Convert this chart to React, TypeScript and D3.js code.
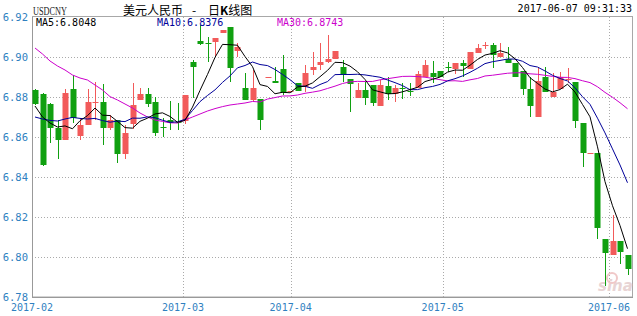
import React from "react";
import * as d3 from "d3";

const opens = [6.8835,6.8815,6.8764,6.8646,6.8587,6.8840,6.8605,6.8660,6.8772,6.8774,6.8644,6.8685,6.8515,6.8664,6.8786,6.8815,6.8774,6.8648,6.8685,6.8674,6.8680,6.8977,6.9078,6.9069,6.9074,6.9121,6.9148,6.9032,6.8843,6.8785,6.8790,6.8897,6.8880,6.8939,6.8828,6.8868,6.8852,6.8935,6.8960,6.8977,6.8989,6.8952,6.8888,6.8797,6.8835,6.8860,6.8755,6.8855,6.8815,6.8845,6.8832,6.8843,6.8898,6.8918,6.8930,6.8952,6.8938,6.8971,6.8938,6.9018,6.9058,6.9060,6.9002,6.8988,6.8968,6.8930,6.8839,6.8698,6.8902,6.8798,6.8838,6.8885,6.8877,6.8668,6.8516,6.8518,6.8088,6.8010,6.8080,6.8010];
const highs = [6.8840,6.8818,6.8770,6.8685,6.8840,6.8910,6.8695,6.8840,6.8877,6.8865,6.8710,6.8685,6.8660,6.8868,6.8843,6.8844,6.8799,6.8694,6.8782,6.8770,6.8812,6.8985,6.9160,6.9098,6.9095,6.9135,6.9148,6.9068,6.8918,6.8935,6.8790,6.8899,6.8952,6.9010,6.8831,6.8870,6.8960,6.9027,6.9068,6.9110,6.9032,6.8985,6.8888,6.8868,6.8877,6.8860,6.8885,6.8902,6.8860,6.8868,6.8868,6.8932,6.8985,6.8982,6.8930,6.8977,6.8970,6.8985,6.9023,6.9065,6.9075,6.9072,6.9068,6.9052,6.8968,6.8930,6.8902,6.8943,6.8952,6.8918,6.8927,6.8943,6.8877,6.8668,6.8519,6.8518,6.8088,6.8210,6.8080,6.8010];
const lows = [6.8760,6.8455,6.8568,6.8492,6.8585,6.8668,6.8585,6.8660,6.8685,6.8560,6.8635,6.8469,6.8490,6.8638,6.8786,6.8752,6.8605,6.8602,6.8635,6.8635,6.8667,6.8793,6.9060,6.8977,6.9000,6.9121,6.8877,6.9000,6.8785,6.8777,6.8635,6.8897,6.8869,6.8810,6.8828,6.8828,6.8827,6.8910,6.8935,6.8968,6.8989,6.8877,6.8727,6.8797,6.8760,6.8755,6.8755,6.8785,6.8777,6.8790,6.8805,6.8843,6.8898,6.8868,6.8898,6.8927,6.8915,6.8902,6.8938,6.9018,6.9040,6.8943,6.9002,6.8968,6.8898,6.8810,6.8698,6.8698,6.8827,6.8798,6.8838,6.8870,6.8643,6.8452,6.8516,6.8088,6.7855,6.8010,6.7965,6.7910];
const closes = [6.8765,6.8459,6.8646,6.8585,6.8822,6.8694,6.8660,6.8774,6.8774,6.8643,6.8685,6.8514,6.8619,6.8760,6.8814,6.8764,6.8619,6.8647,6.8669,6.8669,6.8810,6.8952,6.9065,6.9068,6.9095,6.9135,6.8944,6.9052,6.8785,6.8843,6.8685,6.8899,6.8869,6.8822,6.8831,6.8830,6.8918,6.8951,6.8977,6.8989,6.9032,6.8910,6.8865,6.8835,6.8797,6.8772,6.8860,6.8815,6.8843,6.8840,6.8828,6.8915,6.8960,6.8898,6.8898,6.8950,6.8968,6.8955,6.9023,6.9043,6.9060,6.9010,6.9022,6.8968,6.8898,6.8839,6.8755,6.8880,6.8827,6.8827,6.8898,6.8888,6.8682,6.8519,6.8518,6.8147,6.8018,6.8080,6.8024,6.7939];

const ma5Head = [6.8755, 6.8700, 6.8670, 6.8650];
const ma10Head = [6.8700, 6.8690, 6.8683, 6.8680, 6.8690, 6.8698, 6.8693, 6.8690, 6.8693];
const ma30Head = [6.9045,6.9015,6.8980,6.8955,6.8935,6.8910,6.8895,6.8885,6.8860,6.8835,6.8802,6.8785,6.8765,6.8745,6.8720,6.8700,6.8685,6.8678,6.8671,6.8670,6.8685,6.8700,6.8715,6.8730,6.8742,6.8752,6.8760,6.8765,6.8770];

const yTicks = [6.78, 6.80, 6.82, 6.84, 6.86, 6.88, 6.90, 6.92];
const monthLabels = ["2017-02", "2017-03", "2017-04", "2017-05", "2017-06"];
const monthPos = [-0.4, 19.73, 34.09, 54.36, 76.53];

const maLabels = [
  { text: "MA5:6.8048", color: "#000000" },
  { text: "MA10:6.8376", color: "#000099" },
  { text: "MA30:6.8743", color: "#cc00cc" },
];

const UP = "#f25a5a";
const DOWN = "#10a010";
const AXIS = "#2f7fbf";
const MONO = "'DejaVu Sans Mono', monospace";

function movingAvg(n: number, head: number[]) {
  return closes.map((c, i) =>
    i < n - 1 ? head[i] : (d3.mean(closes.slice(i - n + 1, i + 1)) as number)
  );
}

export default function App() {
  const W = 637, H = 316;
  const left = 32, right = 632, top = 17, bottom = 297;
  const x = d3.scaleLinear().domain([0, closes.length - 1]).range([35, 627.5]);
  const y = d3.scaleLinear().domain([6.78, 6.92]).range([bottom, top]);
  const bw = 6;

  const ma5 = movingAvg(5, ma5Head);
  const ma10 = movingAvg(10, ma10Head);
  const ma30 = movingAvg(30, ma30Head);
  const line = d3
    .line<number>()
    .x((_, i) => x(i))
    .y((v) => y(v));

  return (
    <svg width={W} height={H} style={{ position: "absolute", left: 0, top: 0, background: "#fff" }}>
      {/* grid */}
      {yTicks.slice(1, -1).map((t) => (
        <line key={t} x1={left} x2={right} y1={Math.round(y(t)) + 0.5} y2={Math.round(y(t)) + 0.5}
          stroke="#aaa" strokeDasharray="1,2" />
      ))}
      {monthPos.slice(1).map((p) => (
        <line key={p} x1={Math.round(x(p)) + 0.5} x2={Math.round(x(p)) + 0.5} y1={top} y2={bottom}
          stroke="#aaa" strokeDasharray="1,2" />
      ))}
      {/* frame */}
      <rect x={left + 0.5} y={top - 0.5} width={right - left} height={bottom - top + 0.5}
        fill="none" stroke="#a8a8a8" />
      <line x1={left + 0.5} x2={left + 0.5} y1={top} y2={bottom} stroke="#999" />
      <line x1={left} x2={right + 1} y1={bottom + 0.5} y2={bottom + 0.5} stroke="#999" />

      {/* watermark */}
      <text x={598} y={291} fontFamily="'DejaVu Sans', sans-serif" fontSize={15} fontStyle="italic"
        fontWeight="bold" fill="#e8d4d4">sina</text>
      <circle cx={612} cy={278} r={5} fill="none" stroke="#f0c8c8" strokeWidth={2} />

      {/* candles */}
      {closes.map((c, i) => {
        const o = opens[i];
        const up = c >= o;
        const col = up ? UP : DOWN;
        const cx = Math.round(x(i));
        const yt = Math.round(y(Math.max(o, c)));
        const yb = Math.round(y(Math.min(o, c)));
        return (
          <g key={i}>
            <line x1={cx + 0.5} x2={cx + 0.5} y1={Math.round(y(highs[i]))} y2={Math.round(y(lows[i]))} stroke={col} />
            <rect x={cx - bw / 2 + 0.5} y={yt} width={bw} height={Math.max(1, yb - yt)} fill={col} />
          </g>
        );
      })}

      {/* moving averages */}
      <path d={line(ma30) || ""} fill="none" stroke="#cc00cc" strokeWidth={1} />
      <path d={line(ma10) || ""} fill="none" stroke="#000099" strokeWidth={1} />
      <path d={line(ma5) || ""} fill="none" stroke="#000000" strokeWidth={1} />

      {/* y labels */}
      {yTicks.map((t) => (
        <text key={t} x={28} y={y(t)} dy="0.35em" textAnchor="end" fontFamily={MONO} fontSize={10.5} fill={AXIS}>
          {t.toFixed(2)}
        </text>
      ))}
      {/* x labels */}
      {monthLabels.map((m, k) => (
        <text key={m} x={x(monthPos[k])} y={311} textAnchor="middle" fontFamily={MONO} fontSize={10} fill={AXIS}>
          {m}
        </text>
      ))}

      {/* header */}
      <text x={33} y={15} fontFamily="'Liberation Serif', serif" fontSize={12} textLength={34}
        lengthAdjust="spacingAndGlyphs" fill="#222">USDCNY</text>
      <text x={123} y={15} fontFamily="'Noto Sans CJK SC', sans-serif" fontSize={12} fill="#000">美元人民币</text>
      <text x={192} y={15} fontFamily="'Noto Sans CJK SC', sans-serif" fontSize={12} fill="#000">-</text>
      <text x={208} y={15} fontFamily="'Noto Sans CJK SC', sans-serif" fontSize={12} fill="#000">
        日<tspan fontWeight="bold">K</tspan>线图
      </text>
      <text x={632} y={12} textAnchor="end" fontFamily={MONO} fontSize={10} fill="#000">2017-06-07 09:31:33</text>
      {maLabels.map((m, k) => (
        <text key={m.text} x={[36, 157, 277][k]} y={26} fontFamily={MONO} fontSize={10} fill={m.color}>
          {m.text}
        </text>
      ))}
    </svg>
  );
}
